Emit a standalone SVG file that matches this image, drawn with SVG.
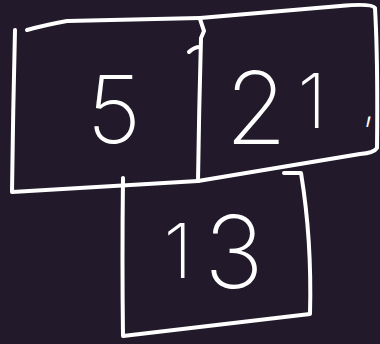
<svg xmlns="http://www.w3.org/2000/svg" width="380" height="344" viewBox="0 0 380 344">
<style>
.ln{fill:none;stroke:#ffffff;stroke-width:4;stroke-linecap:round;stroke-linejoin:round}
.tx{fill:#ffffff;font-family:Inter,"Liberation Sans",sans-serif;font-weight:200;text-anchor:middle}
</style>
<rect width="380" height="344" fill="#221a2a"/>
<g id="box-5">
<path class="ln" d="M27,30 Q45,25 67,21 L200,18"/>
<path class="ln" d="M15,30 Q13,110 12,192 L198,181"/>
<text class="tx" x="114" y="143" font-size="94">5</text>
</g>
<g id="box-21">
<path class="ln" d="M200,18 L340,6 Q372,3 375,8 Q378,60 377,148 Q374,153 360,154 L198,181"/>
<path class="ln" d="M200,19 L204,31 L201,38 Q199,110 198,181"/>
<path class="ln" d="M189,52 Q194,47 200,47" stroke-width="2"/>
<text class="tx" x="256" y="144" font-size="100">2</text>
<text class="tx" x="312" y="128" font-size="76">1</text>
<text class="tx" x="369" y="120" font-size="44">,</text>
</g>
<g id="box-13">
<path class="ln" d="M123,178 Q122,260 123,336 L310,314 Q312,240 301,173 L284,173"/>
<text class="tx" x="178" y="278" font-size="76">1</text>
<text class="tx" x="234" y="288" font-size="100">3</text>
</g>
<g id="connectors"></g>
</svg>
